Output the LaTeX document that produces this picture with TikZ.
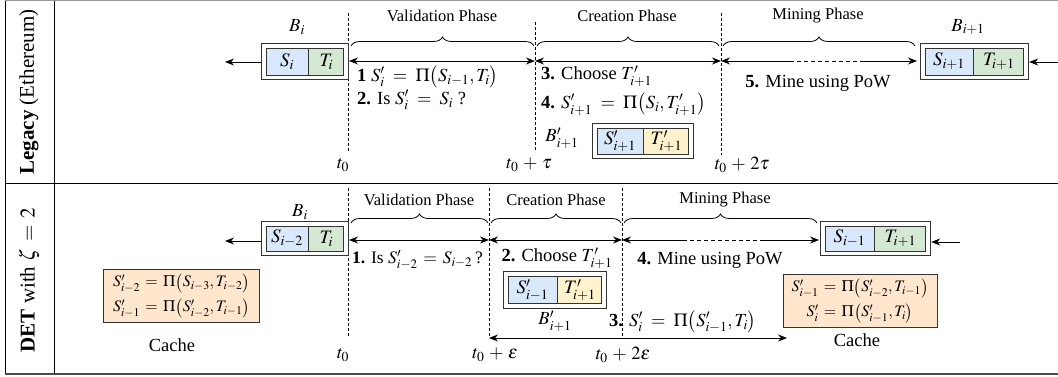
\documentclass[tikz,border=0pt]{standalone}
\usepackage{mathptmx}
\usepackage{fontspec}
\setmainfont{Liberation Serif}
\usetikzlibrary{arrows.meta,decorations.pathreplacing,fit}
\definecolor{cblue}{HTML}{DAE8FC}
\definecolor{cgreen}{HTML}{D5E8D4}
\definecolor{cyellow}{HTML}{FFF2CC}
\definecolor{corange}{HTML}{FFE6CC}
\definecolor{edgec}{HTML}{333333}
\begin{document}
\begin{tikzpicture}[x=1pt,y=1pt,
  font=\fontsize{16.5}{19}\selectfont,
  cell/.style={draw=edgec, line width=0.8pt, inner sep=0pt, minimum height=27pt, font=\fontsize{19}{22}\selectfont},
  sc/.style={cell, fill=cblue},
  tc/.style={cell, fill=cgreen},
  yc/.style={cell, fill=cyellow},
  outerbox/.style={draw=edgec, line width=1pt, inner sep=4.5pt},
  cachebox/.style={draw=edgec, line width=0.9pt, fill=corange, align=center, inner sep=2pt, font=\fontsize{16}{25}\selectfont},
  dashline/.style={dashed, line width=0.7pt, dash pattern=on 3pt off 2pt},
  brc/.style={decorate, decoration={brace, amplitude=9pt}, line width=0.8pt},
  dbl/.style={line width=0.9pt, {Stealth[length=9pt,width=7pt]}-{Stealth[length=9pt,width=7pt]}},
  rarr/.style={line width=0.9pt, -{Stealth[length=9pt,width=7pt]}},
  larr/.style={line width=0.9pt, {Stealth[length=9pt,width=7pt]}-},
  plain/.style={line width=0.9pt},
  txt/.style={inner sep=0pt},
  big/.style={font=\fontsize{18.5}{21}\selectfont},
  lbl/.style={inner sep=0pt, anchor=west, big},
  rowlbl/.style={rotate=90, inner sep=0pt, font=\fontsize{21}{24}\selectfont}
]
\useasboundingbox (0,0) rectangle (1058,-377);
% frame
\draw[line width=1pt, black!40] (5,-1) -- (1058,-1);
\draw[line width=1pt] (5,-1) -- (5,-374);
\draw[line width=1pt] (54,-1) -- (54,-374);
\draw[line width=1pt] (5,-184) -- (1058,-184);
\draw[line width=1.5pt, black!70] (5,-374) -- (1058,-374);
\node[rowlbl] (lab1) at (29,-92) {\textbf{Legacy} (Ethereum)};
\node[rowlbl] (lab2) at (29,-280) {\textbf{DET} with $\zeta\,=\,2$};

% ================= TOP ROW =================
\coordinate (d0t) at (348,-13);  \coordinate (d0b) at (348,-152);
\coordinate (d1t) at (535,-22);  \coordinate (d1b) at (535,-152);
\coordinate (d2t) at (721,-13);  \coordinate (d2b) at (721,-155);
\draw[dashline] (d0t) -- (d0b);
\draw[dashline] (d1t) -- (d1b);
\draw[dashline] (d2t) -- (d2b);
\node[txt, big] (t0a) at (343,-165) {$t_0$};
\node[txt, big] (t1a) at (529,-165) {$t_0\,+\,\tau$};
\node[txt, big] (t2a) at (742,-165) {$t_0\,+\,2\tau$};

% block B_i
\node[sc, minimum width=42pt] (Sa) at (287,-61.5) {$S_i$};
\node[tc, minimum width=35pt, anchor=west] (Ta) at (Sa.east) {$T_i$};
\node[outerbox, fit=(Sa)(Ta)] (Ba) {};
\node[txt, big] (Bal) at (297,-27) {$B_i$};
\coordinate (la) at (225,-62);
\draw[rarr] (Ba.west |- la) -- (la);

% block B_{i+1}
\node[sc, minimum width=48pt] (Sb) at (949,-61.5) {$S_{i+1}$};
\node[tc, minimum width=50pt, anchor=west] (Tb) at (Sb.east) {$T_{i+1}$};
\node[outerbox, fit=(Sb)(Tb)] (Bb) {};
\node[txt, big] (Bbl) at (968,-27) {$B_{i+1}$};
\coordinate (ra) at (1058,-62);
\draw[rarr] (ra) -- (Bb.east |- ra);

% braces + phases
\draw[brc] (351,-46) -- (534,-46);
\draw[brc] (537,-46) -- (719,-46);
\draw[brc] (723,-46) -- (915,-46);
\node[txt] (vpa) at (442,-16) {Validation Phase};
\node[txt] (cpa) at (627,-16) {Creation Phase};
\node[txt] (mpa) at (818,-16) {Mining Phase};

% arrows
\coordinate (a0) at (349,-61); \coordinate (a1) at (535,-61); \coordinate (a2) at (721,-61);
\coordinate (a3) at (917,-61);
\coordinate (m1) at (790,-61); \coordinate (m2) at (862,-61);
\draw[dbl] (a0) -- (a1);
\draw[dbl] (a1) -- (a2);
\draw[larr] (a2) -- (m1);
\draw[plain, dashed, dash pattern=on 4pt off 3pt] (m1) -- (m2);
\draw[rarr] (m2) -- (a3);

% steps
\node[lbl] (s1) at (357,-77) {\textbf{1} $S'_i\;=\;\Pi\bigl(S_{i-1},T_i\bigr)$};
\node[lbl] (s2) at (357,-100) {\textbf{2.} Is $S'_i\;=\;S_i$ ?};
\node[lbl] (s3) at (541,-76) {\textbf{3.} Choose $T'_{i+1}$};
\node[lbl] (s4) at (541,-104) {\textbf{4.} $S'_{i+1}\;=\;\Pi\bigl(S_i,T'_{i+1}\bigr)$};
\node[txt, big] (s5) at (818,-83) {\textbf{5.} Mine using PoW};

% B'_{i+1}
\node[sc, minimum width=46pt, minimum height=26pt] (Sc) at (620,-141) {$S'_{i+1}$};
\node[yc, minimum width=45pt, minimum height=26pt, anchor=west] (Tc) at (Sc.east) {$T'_{i+1}$};
\node[outerbox, fit=(Sc)(Tc)] (Bc) {};
\node[txt, big] (Bcl) at (562,-138) {$B'_{i+1}$};

% ================= BOTTOM ROW =================
\coordinate (e0t) at (348,-188);  \coordinate (e0b) at (348,-337);
\coordinate (e1t) at (489,-188);  \coordinate (e1b) at (489,-337);
\coordinate (e2t) at (622,-188);  \coordinate (e2b) at (622,-337);
\draw[dashline] (e0t) -- (e0b);
\draw[dashline] (e1t) -- (e1b);
\draw[dashline] (e2t) -- (e2b);
\node[txt, big] (t0b) at (343,-355) {$t_0$};
\node[txt, big] (t1b) at (495,-355) {$t_0\,+\,\varepsilon$};
\node[txt, big] (t2b) at (623,-355) {$t_0\,+\,2\varepsilon$};

\node[sc, minimum width=42pt, minimum height=25pt] (Sd) at (287,-238.5) {$S_{i-2}$};
\node[tc, minimum width=35pt, minimum height=25pt, anchor=west] (Td) at (Sd.east) {$T_i$};
\node[outerbox, fit=(Sd)(Td)] (Bd) {};
\node[txt, big] (Bdl) at (300,-212) {$B_i$};
\coordinate (lb) at (225,-241);
\draw[rarr] (Bd.west |- lb) -- (lb);

\node[sc, minimum width=49pt, minimum height=25pt] (Se) at (849.5,-238.5) {$S_{i-1}$};
\node[tc, minimum width=51pt, minimum height=25pt, anchor=west] (Te) at (Se.east) {$T_{i+1}$};
\node[outerbox, fit=(Se)(Te)] (Be) {};
\coordinate (rb) at (960,-242);
\draw[rarr] (rb) -- (Be.east |- rb);

\draw[brc] (351,-223) -- (488,-223);
\draw[brc] (491,-223) -- (621,-223);
\draw[brc] (624,-223) -- (817,-223);
\node[txt] (vpb) at (419,-200) {Validation Phase};
\node[txt] (cpb) at (556,-200) {Creation Phase};
\node[txt] (mpb) at (725,-200) {Mining Phase};

\coordinate (b0) at (349,-240); \coordinate (b1) at (489,-240); \coordinate (b2) at (622,-240);
\coordinate (b3) at (819,-240);
\coordinate (n1) at (683,-240); \coordinate (n2) at (763,-240);
\draw[dbl] (b0) -- (b1);
\draw[dbl] (b1) -- (b2);
\draw[larr] (b2) -- (n1);
\draw[plain, dashed, dash pattern=on 4pt off 3pt] (n1) -- (n2);
\draw[rarr] (n2) -- (b3);

\node[lbl, font=\fontsize{17.5}{20}\selectfont] (u1) at (352,-260) {\textbf{1.} Is $S'_{i-2}\,=\,S_{i-2}$\,?};
\node[txt, big] (u2) at (557,-258) {\textbf{2.} Choose $T'_{i+1}$};
\node[txt, big] (u4) at (710,-260) {\textbf{4.} Mine using PoW};
\node[lbl] (u3) at (609,-322) {\textbf{3.} $S'_i\;=\;\Pi\bigl(S'_{i-1},T_i\bigr)$};

\node[sc, minimum width=49pt, minimum height=27pt] (Sf) at (532.5,-290) {$S'_{i-1}$};
\node[yc, minimum width=44pt, minimum height=27pt, anchor=west] (Tf) at (Sf.east) {$T'_{i+1}$};
\node[outerbox, fit=(Sf)(Tf)] (Bf) {};
\node[txt, big] (Bfl) at (555,-321) {$B'_{i+1}$};

\node[cachebox, minimum width=156pt, minimum height=53pt] (C1) at (181.5,-295.5)
  {$S'_{i-2}\,=\,\Pi\bigl(S_{i-3},T_{i-2}\bigr)$\\ $S'_{i-1}\,=\,\Pi\bigl(S'_{i-2},T_{i-1}\bigr)$};
\node[txt, big] (C1l) at (172,-345) {Cache};
\node[cachebox, minimum width=154pt, minimum height=53pt] (C2) at (860,-300.5)
  {$S'_{i-1}\,=\,\Pi\bigl(S'_{i-2},T_{i-1}\bigr)$\\ $S'_{i}\,=\,\Pi\bigl(S'_{i-1},T_{i}\bigr)$};
\node[txt, big] (C2l) at (857,-340) {Cache};

\coordinate (c3) at (787,-338);
\draw[dbl] (b1 |- c3) -- (c3);
\end{tikzpicture}
\end{document}
